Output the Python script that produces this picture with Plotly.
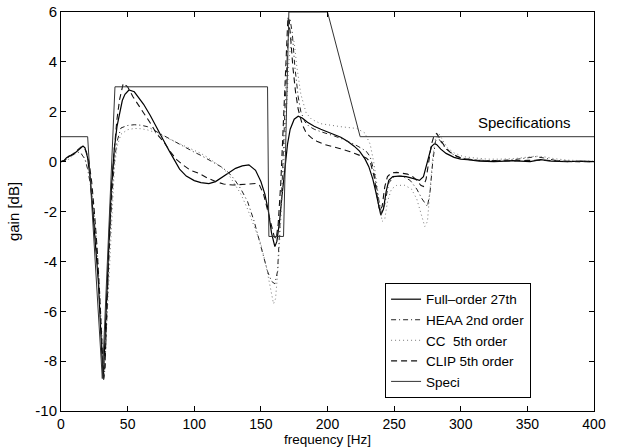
import plotly.graph_objects as go

# ---------------- data ----------------
f_full = [0, 2, 4, 6, 9, 12, 14, 16.5, 18, 20, 22, 24, 26, 28, 29, 30, 31, 31.5, 32, 33, 34, 35, 36, 37, 38, 40, 42, 44, 46,
          48, 51, 55, 58, 62, 67, 72, 77, 81, 85, 89, 94, 100, 105, 111, 116, 121, 126, 131, 136, 141, 146, 150, 153,
          155.5, 158, 160.5, 162, 164, 166, 168, 170, 172, 175, 178, 181, 185, 190, 195, 200, 205, 210, 215, 220, 224,
          228, 231, 234, 236, 238, 240, 242, 244, 246, 249, 254, 259, 264, 269, 272, 274, 276, 278, 280.5, 282, 285,
          289, 295, 300, 305, 314, 325, 339, 345, 352, 360, 368, 380, 390, 400]
g_full = [0, 0.03, 0.15, 0.22, 0.28, 0.42, 0.53, 0.62, 0.55, 0.15, -0.7, -2.0, -3.3, -4.8, -5.9, -7.2, -8.3, -8.6, -8.4, -7.0,
          -5.5, -4.2, -3.0, -1.9, -0.9, 0.5, 1.4, 2.0, 2.45, 2.7, 2.87, 2.8, 2.6, 2.3, 1.85, 1.38, 0.85, 0.45, 0.1, -0.3,
          -0.58, -0.76, -0.84, -0.88, -0.8, -0.62, -0.42, -0.27, -0.17, -0.13, -0.35, -0.8, -1.3, -1.94, -2.87, -3.41,
          -3.2, -2.4, -1.3, -0.2, 0.7, 1.3, 1.7, 1.82, 1.75, 1.58, 1.42, 1.3, 1.2, 1.1, 0.98, 0.82, 0.62, 0.42, 0.12,
          -0.2, -0.7, -1.15, -1.7, -2.15, -1.9, -1.2, -0.75, -0.6, -0.58, -0.6, -0.67, -0.75, -0.6, -0.2, 0.25, 0.6,
          0.73, 0.68, 0.5, 0.33, 0.17, 0.1, 0.08, 0.02, 0.0, 0.04, 0.02, 0.0, 0.08, 0.02, 0.0, 0.02, 0.0]

f_heaa = [0, 3, 6, 9, 12, 15, 18, 20, 22, 24, 26, 28, 30, 31, 32, 33, 34, 35, 36, 38, 40, 42, 45, 50, 55, 60, 65, 70, 75,
          80, 85, 90, 95, 100, 105, 110, 115, 120, 125, 130, 135, 140, 145, 150, 155, 158, 160.5, 162.5, 164, 166, 168,
          170, 171.7, 173.5, 175.5, 178, 180, 183, 186, 190, 195, 200, 205, 210, 215, 220, 225, 229, 232, 235, 238,
          240.5, 243, 246, 250, 256, 262, 267, 271, 275, 277, 279, 281, 282.5, 285, 289, 294, 300, 310, 320, 330,
          340, 350, 356, 362, 370, 380, 390, 400]
g_heaa = [0, 0.05, 0.18, 0.32, 0.4, 0.33, 0.1, -0.3, -0.9, -1.8, -3.0, -4.6, -6.8, -8.0, -8.75, -8.3, -6.8, -5.2, -3.8,
          -1.6, 0.0, 0.8, 1.35, 1.45, 1.48, 1.46, 1.4, 1.25, 1.1, 0.95, 0.8, 0.65, 0.5, 0.38, 0.25, 0.1, -0.05, -0.2,
          -0.4, -0.7, -1.1, -1.6, -2.4, -3.4, -4.4, -4.8, -4.9, -4.4, -3.0, -0.8, 2.0, 4.5, 5.75, 5.2, 3.8, 2.6, 2.0,
          1.6, 1.42, 1.3, 1.2, 1.13, 1.03, 0.93, 0.82, 0.7, 0.55, 0.42, 0.2, -0.4, -1.4, -2.1, -1.7, -0.85, -0.6,
          -0.58, -0.75, -1.1, -1.5, -1.8, -1.2, 0.0, 0.8, 1.0, 0.8, 0.5, 0.3, 0.15, 0.07, 0.04, 0.05, 0.08, 0.15,
          0.2, 0.15, 0.06, 0.0, 0.0, 0.0]

f_cc = [0, 3, 6, 9, 12, 14, 16, 18, 20, 22, 24, 26, 28, 30, 31, 32, 33, 34, 35, 36, 38, 40, 42, 45, 50, 55, 60, 65, 70,
        75, 80, 85, 90, 95, 100, 105, 110, 115, 120, 125, 129, 135, 140, 145, 150, 154, 157, 159.5, 161, 163, 165,
        167, 169, 171, 173, 175, 177, 180, 184, 188, 195, 200, 210, 222, 228, 232, 235, 238, 241, 243, 245, 248,
        252, 258, 263, 267, 270, 273, 275, 277, 279, 281, 283.5, 286, 290, 295, 302, 310, 320, 330, 340, 350, 356,
        362, 370, 380, 390, 400]
g_cc = [0, 0.0, 0.1, 0.25, 0.35, 0.38, 0.3, 0.1, -0.25, -0.8, -1.6, -2.7, -4.2, -6.2, -7.4, -8.2, -8.0, -6.9, -5.5, -4.2,
        -2.0, -0.3, 0.6, 1.1, 1.28, 1.33, 1.32, 1.27, 1.18, 1.06, 0.95, 0.83, 0.72, 0.6, 0.47, 0.33, 0.17, 0.0, -0.2,
        -0.45, -0.8, -1.3, -1.9, -2.6, -3.3, -4.2, -5.1, -5.7, -5.5, -4.2, -2.3, 0.0, 2.2, 4.0, 5.0, 4.8, 3.8, 2.7,
        1.95, 1.7, 1.52, 1.47, 1.4, 1.33, 1.15, 0.7, -0.1, -1.3, -2.4, -2.3, -1.6, -1.1, -0.95, -0.95, -1.1, -1.5,
        -2.1, -2.6, -2.4, -1.2, 0.2, 0.9, 1.13, 0.9, 0.55, 0.35, 0.2, 0.15, 0.1, 0.1, 0.12, 0.18, 0.22, 0.2, 0.12,
        0.06, 0.03, 0.02]

f_clip = [0, 3, 6, 9, 12, 15, 17, 19, 21, 23, 25, 27, 29, 30, 31, 32, 33, 34, 35, 36, 38, 40, 42, 44, 46.7, 50, 54, 59,
          63, 67, 72, 77, 82, 87, 92, 97, 104, 110, 116, 122, 129, 135, 140, 146, 149, 152, 155, 158, 160, 161.5, 163,
          165, 167, 169, 170.3, 172, 174, 176, 178, 181, 184, 188, 192, 197, 203, 209, 217, 224, 229, 232, 235, 237,
          239, 241, 243, 245, 248, 252, 256, 260, 264, 267, 270, 272, 274, 276, 278, 280, 282, 284, 288, 292, 297,
          302, 310, 320, 330, 340, 350, 360, 370, 380, 390, 400]
g_clip = [0, 0.05, 0.2, 0.3, 0.45, 0.58, 0.58, 0.4, 0.0, -0.8, -2.0, -3.4, -5.3, -6.5, -7.8, -8.7, -8.2, -6.6, -4.9,
          -3.4, -1.2, 0.5, 1.7, 2.5, 3.14, 3.0, 2.6, 2.2, 1.9, 1.55, 1.1, 0.8, 0.4, 0.07, -0.15, -0.34, -0.48, -0.66,
          -0.8, -0.9, -0.94, -0.93, -0.9, -0.88, -0.95, -1.3, -1.9, -2.6, -3.0, -3.1, -2.5, -0.8, 1.8, 4.5, 5.8, 5.2,
          3.8, 2.8, 2.1, 1.5, 1.15, 0.95, 0.82, 0.7, 0.62, 0.53, 0.4, 0.26, 0.15, 0.0, -0.6, -1.3, -1.95, -1.8, -1.0,
          -0.6, -0.45, -0.43, -0.45, -0.5, -0.6, -0.75, -0.95, -1.0, -0.7, 0.0, 0.7, 1.05, 1.13, 0.95, 0.6, 0.38,
          0.21, 0.12, 0.06, 0.03, 0.02, 0.03, 0.05, 0.06, 0.03, 0.0, 0.0, 0.0]

f_spec = [0, 20, 31, 40.5, 155, 156, 167, 171, 200, 224.5, 400]
g_spec = [1, 1, -8.7, 3, 3, -3, -3, 6, 6, 1, 1]

x_ticks = [0, 50, 100, 150, 200, 250, 300, 350, 400]
y_ticks = [-10, -8, -6, -4, -2, 0, 2, 4, 6]

names = ["Full\u2013order 27th", "HEAA 2nd order", "CC  5th order", "CLIP 5th order", "Speci"]
x_title = "frequency [Hz]"
y_title = "gain [dB]"

# ---------------- figure ----------------
W, H = 617, 448
M_L, M_R, M_T, M_B = 61, 23, 12, 37
plot_h = H - M_T - M_B

FONT = "Liberation Sans, Arial, Helvetica, sans-serif"
fig = go.Figure()
fig.add_trace(go.Scatter(x=f_full, y=g_full, mode="lines", name=names[0],
                         line=dict(color="black", width=1.2)))
fig.add_trace(go.Scatter(x=f_heaa, y=g_heaa, mode="lines", name=names[1],
                         line=dict(color="#222222", width=1, dash="5px,3px,1px,3px")))
fig.add_trace(go.Scatter(x=f_cc, y=g_cc, mode="lines", name=names[2],
                         line=dict(color="#777777", width=1, dash="1px,3px")))
fig.add_trace(go.Scatter(x=f_clip, y=g_clip, mode="lines", name=names[3],
                         line=dict(color="#111111", width=1.1, dash="6px,4px")))
fig.add_trace(go.Scatter(x=f_spec, y=g_spec, mode="lines", name=names[4],
                         line=dict(color="#333333", width=1)))

fig.add_annotation(x=313.5, y=1.55, text="Specifications", showarrow=False,
                   xanchor="left", yanchor="middle", xshift=-3, font=dict(size=15, color="black"))
# x-axis title as an annotation anchored at the bottom edge of the figure
fig.add_annotation(x=0.5, y=-M_B / plot_h, xref="paper", yref="paper", text=x_title,
                   showarrow=False, xanchor="center", yanchor="bottom", borderpad=0,
                   font=dict(size=13.5, color="black"))

axis_common = dict(showline=True, linecolor="black", linewidth=1, mirror="ticks",
                   ticks="inside", ticklen=5, tickcolor="black", showgrid=False, zeroline=False,
                   automargin=False)
fig.update_xaxes(range=[0, 400], tickvals=x_ticks, ticktext=[str(v) for v in x_ticks],
                 tickfont=dict(size=14, color="black"), **axis_common)
fig.update_yaxes(range=[-10, 6], tickvals=y_ticks, ticktext=[str(v) for v in y_ticks],
                 tickfont=dict(size=15, color="black"),
                 title=dict(text=y_title, font=dict(size=15, color="black"), standoff=12),
                 **axis_common)

fig.update_layout(
    width=W, height=H,
    margin=dict(l=M_L, r=M_R, t=M_T, b=M_B, autoexpand=False),
    paper_bgcolor="white", plot_bgcolor="white",
    font=dict(family=FONT, size=15, color="black"),
    showlegend=True,
    legend=dict(x=0.608, y=0.321, xanchor="left", yanchor="top",
                bordercolor="black", borderwidth=1, bgcolor="white",
                font=dict(size=13.5), itemwidth=30, tracegroupgap=0),
)

# remove the browser's default 8px page margin so the figure sits at the window origin
fig.write_html("out.html", config={"displayModeBar": False},
               post_script="document.body.style.margin='0px';")
